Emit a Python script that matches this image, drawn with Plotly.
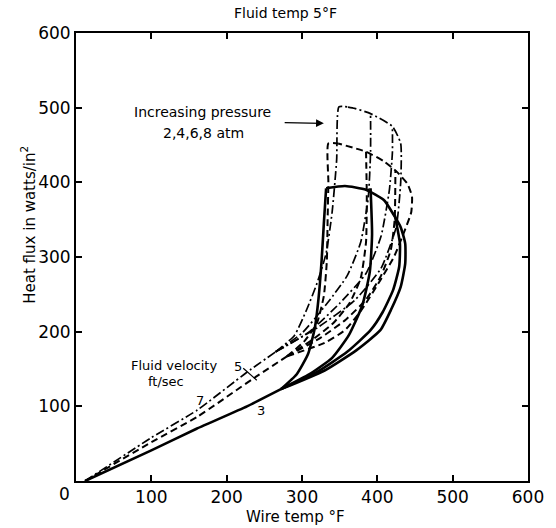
import plotly.graph_objects as go

# ---- data ----
# Solid family: fluid velocity 3 ft/sec
s3_common_x = [12, 100, 160, 227, 272]
s3_common_y = [0, 41, 70, 100, 123]
s3_p2_x = [272, 293, 308, 317, 322, 326, 329, 332]
s3_p2_y = [123, 143, 170, 205, 245, 295, 345, 392]
s3_p4_x = [272, 310, 340, 362, 380, 390, 393, 391]
s3_p4_y = [123, 143, 165, 195, 235, 280, 330, 392]
s3_p6_x = [272, 320, 360, 391, 407, 421, 429, 430, 423]
s3_p6_y = [123, 146, 173, 202, 226, 256, 287, 318, 357]
s3_p8_x = [272, 330, 372, 404, 418, 431, 437, 437, 431, 422, 409, 385, 357, 332]
s3_p8_y = [123, 148, 175, 202, 229, 260, 291, 318, 340, 356, 376, 390, 395, 392]

# Dashed family: fluid velocity 5 ft/sec
d5_common_x = [12, 100, 161, 235, 280]
d5_common_y = [0, 52, 86, 137, 167]
d5_p2_x = [280, 303, 320, 329, 333, 334, 335, 335, 348]
d5_p2_y = [167, 187, 212, 248, 295, 350, 400, 452, 452]
d5_p4_x = [280, 315, 342, 363, 378, 385, 386, 385]
d5_p4_y = [167, 190, 212, 238, 272, 320, 380, 441]
d5_p6_x = [280, 325, 358, 385, 405, 418, 423, 424]
d5_p6_y = [167, 192, 216, 243, 275, 310, 350, 416]
d5_p8_x = [280, 330, 357, 379, 404, 422, 435, 445, 446, 440, 426, 409, 385, 348]
d5_p8_y = [167, 185, 202, 229, 269, 300, 332, 360, 381, 398, 414, 428, 441, 452]

# Dash-dot family: fluid velocity 7 ft/sec
c7_common_x = [12, 100, 161, 226, 265]
c7_common_y = [0, 58, 95, 145, 173]
c7_p2_x = [265, 290, 306, 320, 332, 340, 346, 349, 360]
c7_p2_y = [173, 195, 229, 265, 305, 360, 430, 501, 501]
c7_p4_x = [265, 300, 335, 360, 378, 388, 391, 391]
c7_p4_y = [173, 198, 240, 275, 320, 380, 440, 492]
c7_p6_x = [265, 310, 350, 385, 405, 416, 420, 420]
c7_p6_y = [173, 200, 238, 278, 328, 390, 440, 475]
c7_p8_x = [265, 320, 370, 405, 425, 431, 431, 420, 391, 370, 360]
c7_p8_y = [173, 205, 242, 285, 340, 400, 452, 475, 492, 499, 501]

# leader line for the "5" label
lead5_x = [222, 240]
lead5_y = [151, 135]

x_ticks = [0, 100, 200, 300, 400, 500, 600]
x_labels = ["", "100", "200", "300", "400", "500", "600"]
y_ticks = [0, 100, 200, 300, 400, 500, 600]
y_labels = ["", "100", "200", "300", "400", "500", "600"]

fig = go.Figure()

def add(xs, ys, dash, width, shape="spline"):
    fig.add_trace(go.Scatter(x=xs, y=ys, mode="lines",
                             line=dict(color="black", dash=dash, width=width,
                                       shape=shape, smoothing=0.5),
                             showlegend=False, hoverinfo="skip"))

for xs, ys in [(s3_common_x, s3_common_y), (s3_p2_x, s3_p2_y), (s3_p4_x, s3_p4_y),
               (s3_p6_x, s3_p6_y), (s3_p8_x, s3_p8_y)]:
    add(xs, ys, "solid", 2.6)
for xs, ys in [(d5_common_x, d5_common_y), (d5_p2_x, d5_p2_y), (d5_p4_x, d5_p4_y),
               (d5_p6_x, d5_p6_y), (d5_p8_x, d5_p8_y)]:
    add(xs, ys, "7px,4px", 2.0)
for xs, ys in [(c7_common_x, c7_common_y), (c7_p2_x, c7_p2_y), (c7_p4_x, c7_p4_y),
               (c7_p6_x, c7_p6_y), (c7_p8_x, c7_p8_y)]:
    add(xs, ys, "9px,3px,2px,3px", 1.7)
add(lead5_x, lead5_y, "solid", 1.2, "linear")

FONT = "DejaVu Sans"
BLACK = "black"
ann = []
ann.append(dict(x=0.464, y=1.0446, xref="paper", yref="paper", text="Fluid temp 5°F",
                xanchor="center", yanchor="middle", showarrow=False,
                font=dict(size=14, family=FONT, color=BLACK)))
ann.append(dict(x=0.486, y=-0.08, xref="paper", yref="paper", text="Wire temp °F",
                xanchor="center", yanchor="middle", showarrow=False,
                font=dict(size=15, family=FONT, color=BLACK)))
ann.append(dict(x=-0.105, y=0.571, xref="paper", yref="paper",
                text="Heat flux in watts/in<sup>2</sup>", textangle=-90,
                xanchor="center", yanchor="middle", showarrow=False,
                font=dict(size=15, family=FONT, color=BLACK)))
# shared origin label "0"
ann.append(dict(x=-0.026, y=-0.029, xref="paper", yref="paper", text="0",
                xanchor="center", yanchor="middle", showarrow=False,
                font=dict(size=17, family=FONT, color=BLACK)))
ann.append(dict(x=168, y=494, text="Increasing pressure", showarrow=False,
                xanchor="center", yanchor="middle",
                font=dict(size=14, family=FONT, color=BLACK)))
ann.append(dict(x=169, y=466, text="2,4,6,8 atm", showarrow=False,
                xanchor="center", yanchor="middle",
                font=dict(size=14, family=FONT, color=BLACK)))
ann.append(dict(x=329, y=479, ax=275, ay=480, axref="x", ayref="y", text="",
                showarrow=True, arrowhead=2, arrowsize=1.2, arrowwidth=1.3,
                arrowcolor=BLACK))
ann.append(dict(x=190, y=155, text="Fluid velocity", showarrow=False,
                xanchor="right", yanchor="middle",
                font=dict(size=13, family=FONT, color=BLACK)))
ann.append(dict(x=146, y=133, text="ft/sec", showarrow=False,
                xanchor="right", yanchor="middle",
                font=dict(size=13, family=FONT, color=BLACK)))
ann.append(dict(x=215, y=153, text="5", showarrow=False,
                xanchor="center", yanchor="middle",
                font=dict(size=13, family=FONT, color=BLACK)))
ann.append(dict(x=165, y=108, text="7", showarrow=False,
                xanchor="center", yanchor="middle",
                font=dict(size=13, family=FONT, color=BLACK)))
ann.append(dict(x=246, y=95, text="3", showarrow=False,
                xanchor="center", yanchor="middle",
                font=dict(size=13, family=FONT, color=BLACK)))

axis_common = dict(range=[0, 600], showgrid=False, zeroline=False, showline=True,
                   linecolor=BLACK, linewidth=2, mirror="ticks", ticks="inside",
                   ticklen=6, tickwidth=1.5, tickcolor=BLACK,
                   tickfont=dict(size=17, family=FONT, color=BLACK))
fig.update_layout(
    width=556, height=528,
    margin=dict(l=76, r=19, t=33, b=47),
    paper_bgcolor="white", plot_bgcolor="white",
    xaxis=dict(tickvals=x_ticks, ticktext=x_labels, **axis_common),
    yaxis=dict(tickvals=y_ticks, ticktext=y_labels, **axis_common),
    annotations=ann,
)
fig.write_html("out.html")
